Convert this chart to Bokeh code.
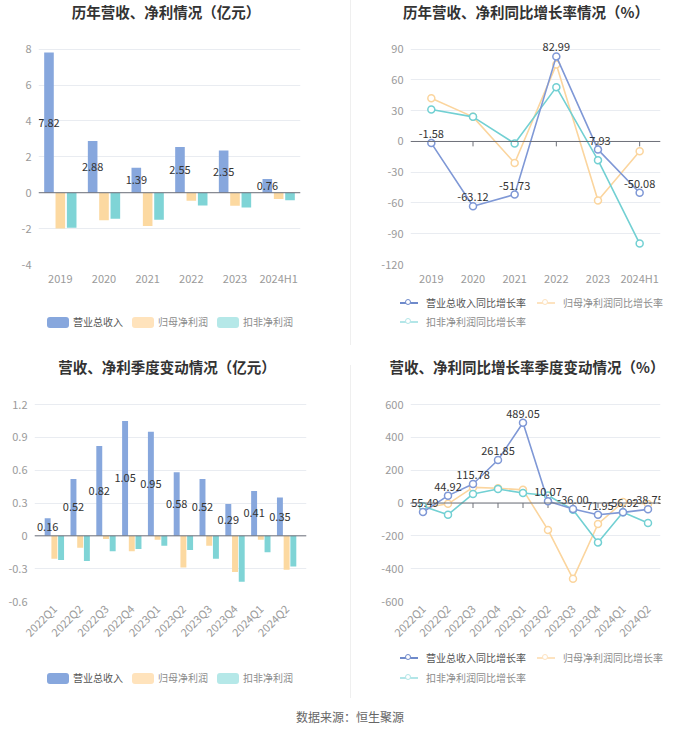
import math
from bokeh.plotting import figure
from bokeh.models import Span, ColumnDataSource, Spacer, FixedTicker, FactorRange, Div
from bokeh.layouts import row, column
from bokeh.transform import dodge
from bokeh.core.properties import value
from bokeh.embed import file_html
from bokeh.resources import INLINE

FONT = "Noto Sans CJK SC"

# ---------------- data ----------------
years = ["2019", "2020", "2021", "2022", "2023", "2024H1"]
rev_y = [7.82, 2.88, 1.39, 2.55, 2.35, 0.76]
np_y = [-2.00, -1.53, -1.85, -0.45, -0.73, -0.35]
dnp_y = [-1.95, -1.45, -1.50, -0.71, -0.82, -0.42]

rev_g = [-1.58, -63.12, -51.73, 82.99, -7.93, -50.08]
np_g = [42.1, 24.0, -21.0, 75.0, -57.5, -9.6]
dnp_g = [31.2, 24.0, -2.0, 53.0, -18.2, -99.6]

quarters = ["2022Q1", "2022Q2", "2022Q3", "2022Q4", "2023Q1",
            "2023Q2", "2023Q3", "2023Q4", "2024Q1", "2024Q2"]
rev_q = [0.16, 0.52, 0.82, 1.05, 0.95, 0.58, 0.52, 0.29, 0.41, 0.35]
np_q = [-0.21, -0.11, -0.03, -0.14, -0.035, -0.29, -0.09, -0.33, -0.035, -0.31]
dnp_q = [-0.22, -0.23, -0.14, -0.12, -0.09, -0.13, -0.21, -0.42, -0.15, -0.28]

rev_qg = [-55.49, 44.92, 115.78, 261.85, 489.05, 10.07, -36.00, -71.95, -56.92, -38.75]
np_qg = [-30, -5, 95, 90, 80, -164, -462, -128, 6, -6]
dnp_qg = [-20, -71, 55, 85, 61, 46, -41, -240, -57, -122]

bar_names = ["营业总收入", "归母净利润", "扣非净利润"]
line_names = ["营业总收入同比增长率", "归母净利润同比增长率", "扣非净利润同比增长率"]

titles = ["历年营收、净利情况（亿元）", "历年营收、净利同比增长率情况（%）",
          "营收、净利季度变动情况（亿元）", "营收、净利同比增长率季度变动情况（%）"]
source_text = "数据来源：恒生聚源"

yt_tl = [-4, -2, 0, 2, 4, 6, 8]
yt_tr = [-120, -90, -60, -30, 0, 30, 60, 90]
yt_bl = [-0.6, -0.3, 0, 0.3, 0.6, 0.9, 1.2]
yt_br = [-600, -400, -200, 0, 200, 400, 600]

# ---------------- styles ----------------
BAR_COLORS = ["#87A7DD", "#FCD9A1", "#7FD4D6"]
BAR_LEG_COLORS = ["#87A7DD", "#FFE3BC", "#B5E8E8"]
LINE_COLORS = ["#7F98D6", "#FBD59E", "#72D0D3"]
LINE_LEG_COLORS = ["#6F8ACB", "#FDE3C0", "#B3E6E8"]
LEG_TEXT = ["#555555", "#8C8C8C", "#8C8C8C"]
LEG_FS = 10
CSS_FONT = "'Noto Sans CJK SC', 'Noto Sans', sans-serif"


def box(left, top, inner_style, content=""):
    return ('<div style="position:absolute;left:%.1fpx;top:%.1fpx;%s">%s</div>'
            % (left, top, inner_style, content))


def html_div(w, h, parts):
    html = ('<div style="position:relative;width:%dpx;height:%dpx;font-family:%s;">%s</div>'
            % (w, h, CSS_FONT, "".join(parts)))
    return Div(text=html, width=w, height=h, margin=(0, 0, 0, 0))


def title_div(w, h, text, cx, cy):
    half = min(cx, w - cx)
    style = ("width:%.1fpx;text-align:center;font-size:14.5px;font-weight:bold;"
             "line-height:18px;color:#333333;white-space:nowrap;" % (2 * half))
    return html_div(w, h, [box(cx - half, cy - 9, style, text)])


def bar_legend(w, h, cx, cy):
    gw, gh, so, sp = 22, 11, 4, 9
    widths = [gw + so + len(n) * LEG_FS for n in bar_names]
    x = cx - (sum(widths) + sp * (len(widths) - 1)) / 2
    parts = []
    for name, c, tc, wd in zip(bar_names, BAR_LEG_COLORS, LEG_TEXT, widths):
        parts.append(box(x, cy - gh / 2, "width:%dpx;height:%dpx;background:%s;border-radius:3px;"
                         % (gw, gh, c)))
        parts.append(box(x + gw + so, cy - 7, "font-size:%dpx;line-height:14px;color:%s;"
                         "white-space:nowrap;" % (LEG_FS, tc), name))
        x += wd + sp
    return html_div(w, h, parts)


def line_legend(w, h, col_x, row_y):
    pos = [(col_x[0], row_y[0]), (col_x[1], row_y[0]), (col_x[0], row_y[1])]
    parts = []
    for name, c, tc, (x, y) in zip(line_names, LINE_LEG_COLORS, LEG_TEXT, pos):
        parts.append(box(x, y - 1, "width:18px;height:2px;background:%s;" % c))
        parts.append(box(x + 4.5, y - 4.5, "width:6px;height:6px;border:1.5px solid %s;"
                         "border-radius:50%%;background:#ffffff;" % c))
        parts.append(box(x + 26, y - 7, "font-size:%dpx;line-height:14px;color:%s;"
                         "white-space:nowrap;" % (LEG_FS, tc), name))
    return html_div(w, h, parts)


def base_fig(xr, yticks, ytop, w, h, bl, br, bt, bb):
    p = figure(x_range=xr, y_range=(yticks[0], ytop), width=w, height=h,
               output_backend="svg", toolbar_location=None, title=None,
               min_border_left=bl, min_border_right=br, min_border_top=bt,
               min_border_bottom=bb)
    p.outline_line_color = None
    p.xgrid.grid_line_color = None
    p.ygrid.grid_line_color = "#E9ECF1"
    p.yaxis.ticker = FixedTicker(ticks=yticks)
    p.yaxis.major_label_overrides = {t: ("%g" % t) for t in yticks}
    for ax in (p.xaxis[0], p.yaxis[0]):
        ax.axis_line_color = None
        ax.major_tick_line_color = None
        ax.minor_tick_line_color = None
        ax.major_tick_out = 0
        ax.major_tick_in = 0
        ax.major_label_text_font = FONT
        ax.major_label_text_font_size = "11px"
        ax.major_label_text_color = "#9A9A9A"
    p.yaxis.major_label_standoff = 7
    p.xaxis.major_label_standoff = 5
    p.add_layout(Span(location=0, dimension="width", line_color="#6E7079", line_width=1))
    return p


def bar_chart(xr, cats, rev, npv, dnp, yticks, ytop, w, h, bl, br, bt, bb,
              rotate=False, width=0.22, off=0.26):
    p = base_fig(xr, yticks, ytop, w, h, bl, br, bt, bb)
    src = ColumnDataSource(dict(cat=cats, rev=rev, np=npv, dnp=dnp,
                                mid=[v / 2 for v in rev], lab=["%.2f" % v for v in rev]))
    for key, o, c in zip(["rev", "np", "dnp"], [-off, 0, off], BAR_COLORS):
        p.vbar(x=dodge("cat", o, range=p.x_range), top=key, width=width, source=src,
               fill_color=c, line_color=None)
    p.text(x=dodge("cat", -off, range=p.x_range), y="mid", text="lab", source=src,
           text_align="center", text_baseline="middle", text_font=value(FONT),
           text_font_size="11px", text_color="#333333")
    if rotate:
        p.xaxis.major_label_orientation = math.pi / 4
    return p


def line_chart(cats, rev, npv, dnp, yticks, ytop, w, h, bl, br, bt, bb, frame_h, rotate=False):
    p = base_fig(cats, yticks, ytop, w, h, bl, br, bt, bb)
    tick_len = 5 * (ytop - yticks[0]) / frame_h
    p.segment(x0=cats, y0=[0] * len(cats), x1=cats, y1=[-tick_len] * len(cats),
              line_color="#6E7079", line_width=1)
    for vals, c in zip([npv, dnp, rev], [LINE_COLORS[1], LINE_COLORS[2], LINE_COLORS[0]]):
        p.line(x=cats, y=vals, line_color=c, line_width=1.6)
        p.scatter(x=cats, y=vals, marker="circle", size=7, fill_color="white",
                  line_color=c, line_width=1.5)
    p.text(x=cats, y=rev, text=["%.2f" % v for v in rev], text_align="center",
           text_baseline="bottom", y_offset=-5, text_font=value(FONT),
           text_font_size="11px", text_color="#333333")
    if rotate:
        p.xaxis.major_label_orientation = math.pi / 4
    return p


def ext(yticks, px, frame_px):
    return yticks[-1] + px * (yticks[-1] - yticks[0]) / frame_px


# ---- top row (page y 0..358): title 35 + chart 253 + legend 70
t1 = title_div(350, 35, titles[0], 166, 12)
p1 = bar_chart(years, years, rev_y, np_y, dnp_y, yt_tl, ext(yt_tl, 14, 220),
               350, 253, 38, 50, 0, 19)
l1 = bar_legend(350, 70, 170, 34)

t2 = title_div(349, 35, titles[1], 175, 12)
p2 = line_chart(years, rev_g, np_g, dnp_g, yt_tr, ext(yt_tr, 14, 220),
                349, 253, 59, 40, 0, 19, 234)
l2 = line_legend(349, 70, [49, 186], [15, 34])

# ---- bottom row (page y 358..698): title 27 + chart 263 + legend 50
t3 = title_div(350, 27, titles[2], 167, 9)
xr3 = FactorRange(factors=quarters, range_padding=0.054)
p3 = bar_chart(xr3, quarters, rev_q, np_q, dnp_q, yt_bl, ext(yt_bl, 19, 197),
               350, 263, 34, 44, 0, 47, rotate=True, width=0.23, off=0.26)
l3 = bar_legend(350, 50, 170, 30)

t4 = title_div(349, 27, titles[3], 176, 9)
p4 = line_chart(quarters, rev_qg, np_qg, dnp_qg, yt_br, ext(yt_br, 19, 197),
                349, 263, 59, 40, 0, 47, 216, rotate=True)
l4 = line_legend(349, 50, [49, 186], [10, 30])

sep1 = Spacer(width=1, height=345, styles={"background-color": "#EFEFEF"})
sep2 = Spacer(width=1, height=333, margin=(7, 0, 0, 0), styles={"background-color": "#EFEFEF"})

foot = html_div(700, 34, [box(0, 11, "width:700px;text-align:center;font-size:12px;"
                               "line-height:16px;color:#666666;", source_text)])

layout = column(row(column(t1, p1, l1), sep1, column(t2, p2, l2)),
                row(column(t3, p3, l3), sep2, column(t4, p4, l4)),
                foot)

open("out.html", "w").write(file_html(layout, INLINE))
